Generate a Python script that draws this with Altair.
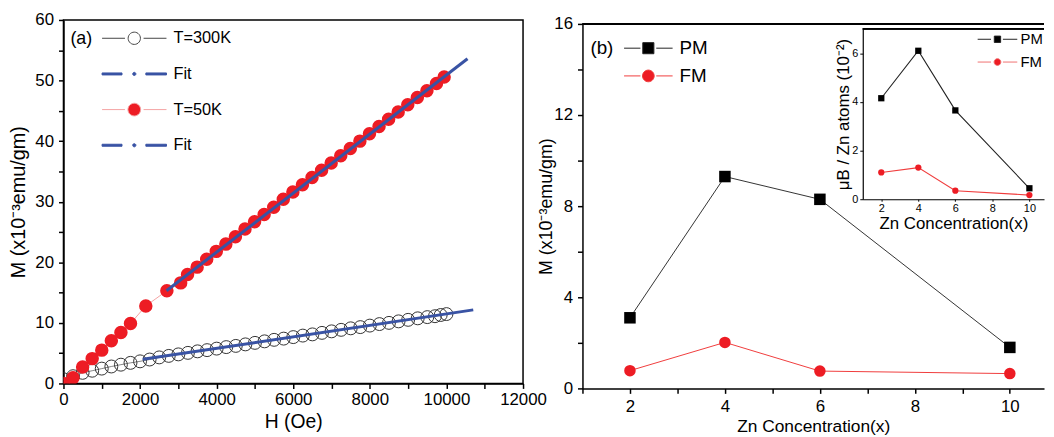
import math
import altair as alt
import pandas as pd

FONT = "Liberation Sans"

# ---------------- panel (a) data ----------------
H_300K = [0, 250, 500, 750, 1000, 1250, 1500, 1750, 2000, 2250, 2500, 2750, 3000, 3250,
          3500, 3750, 4000, 4250, 4500, 4750, 5000, 5250, 5500, 5750, 6000, 6250, 6500,
          6750, 7000, 7250, 7500, 7750, 8000, 8250, 8500, 8750, 9000, 9250, 9500, 9700,
          9850, 10000]
M_300K = [0.7, 1.2, 1.75, 2.1, 2.45, 2.8, 3.1, 3.4, 3.65, 3.95, 4.3, 4.55, 4.8, 5.05,
          5.3, 5.5, 5.75, 6.0, 6.2, 6.45, 6.7, 6.95, 7.2, 7.4, 7.65, 7.9, 8.1,
          8.35, 8.6, 8.85, 9.1, 9.3, 9.55, 9.8, 10.0, 10.25, 10.5, 10.75, 10.95, 11.1,
          11.3, 11.45]
H_50K = [0, 250, 500, 750, 1000, 1250, 1500, 1750, 2150, 2700, 3060, 3240, 3490, 3740,
         3990, 4240, 4490, 4740, 4990, 5240, 5490, 5740, 5990, 6240, 6490, 6740, 6990,
         7240, 7490, 7740, 7990, 8240, 8490, 8740, 8990, 9240, 9490, 9740, 9940]
M_50K = [0.0, 0.95, 2.7, 4.1, 5.5, 7.05, 8.4, 9.9, 12.8, 15.3, 16.6, 18.0, 19.2, 20.5,
         21.8, 23.0, 24.2, 25.5, 26.7, 27.9, 29.1, 30.4, 31.6, 32.8, 34.0, 35.2, 36.4,
         37.6, 38.8, 40.0, 41.2, 42.4, 43.6, 44.8, 46.0, 47.2, 48.3, 49.5, 50.6]
FIT_300K_H = [2070, 10700]
FIT_300K_M = [3.98, 12.15]
FIT_50K_H = [2690, 10550]
FIT_50K_M = [15.3, 53.6]
LEGEND_A = ["T=300K", "Fit", "T=50K", "Fit "]

# ---------------- panel (b) data ----------------
ZN_X = [2, 4, 6, 10]
PM_MAIN = [3.1, 9.3, 8.3, 1.8]
FM_MAIN = [0.78, 2.02, 0.76, 0.65]
PM_INSET = [4.15, 6.1, 3.65, 0.45]
FM_INSET = [1.1, 1.3, 0.35, 0.17]
LEGEND_B = ["PM", "FM"]
LEGEND_INSET = ["PM ", "FM "]

# axis extents of panel (b) and its inset
B_X_DOMAIN = [1, 10.72]
B_Y_DOMAIN = [0, 16]
I_X_DOMAIN = [1, 10.79]
I_Y_DOMAIN = [0, 7]

RED = "#ed1c24"
BLUE = "#3953a4"


# ---------------- legend symbol shapes, given in pixels, scaled to symbol units ----------------
def ring(r, s, n=28):
    pts = []
    for i in range(n):
        a = 2 * math.pi * i / n
        pts.append(f"{r * math.cos(a) / s:.4f},{r * math.sin(a) / s:.4f}")
    return "M" + "L".join(pts) + "Z"


def seg(x0, x1, s):
    return f"M{x0 / s:.4f},0L{x1 / s:.4f},0"


def bar(x0, x1, h, s):
    return (f"M{x0 / s:.4f},{-h / s:.4f}L{x1 / s:.4f},{-h / s:.4f}"
            f"L{x1 / s:.4f},{h / s:.4f}L{x0 / s:.4f},{h / s:.4f}Z")


def box(r, s):
    q = r / s
    return f"M{-q:.4f},{-q:.4f}L{q:.4f},{-q:.4f}L{q:.4f},{q:.4f}L{-q:.4f},{q:.4f}Z"


# legend (a): symbol size 16^2 -> unit 8 px
SA = 8.0
SHAPE_OPEN = seg(-32.5, -9.4, SA) + seg(9.4, 32.5, SA) + ring(6.2, SA)
SHAPE_FIT = bar(-32.5, -12.4, 1.0, SA) + bar(11.7, 32.5, 1.0, SA) + ring(1.6, SA)
SHAPE_RED = seg(-32.5, -9.4, SA) + seg(9.4, 32.5, SA) + ring(6.4, SA)
# legend (b): symbol size 18^2 -> unit 9 px
SB = 9.0
SHAPE_PM = seg(-24.5, -8.0, SB) + seg(8.0, 24.5, SB) + box(5.6, SB)
SHAPE_FM = seg(-24.5, -8.0, SB) + seg(8.0, 24.5, SB) + ring(5.9, SB)
# inset legend: symbol size 14^2 -> unit 7 px
SI = 7.0
SHAPE_PM_I = seg(-20, -6.5, SI) + seg(5.5, 20, SI) + box(3.2, SI)
SHAPE_FM_I = seg(-20, -6.5, SI) + seg(5.5, 20, SI) + ring(3.4, SI)


def axis_style(**kw):
    base = dict(domainColor="black", domainWidth=1.5, tickColor="black", tickWidth=1.5,
                tickSize=5, labelColor="black", labelFont=FONT, labelFontSize=17,
                labelFlush=False, labelPadding=4, titleColor="black", titleFont=FONT,
                titleFontSize=20, titleFontWeight="normal", grid=False)
    base.update(kw)
    return alt.Axis(**base)


def make_legend(title, x, y, fsize, tsize, ssize, row_pad, sym_off, label_off, title_pad=10):
    kw = dict(orient="none", legendX=x, legendY=y, labelFont=FONT, labelFontSize=fsize,
              labelColor="black", symbolSize=ssize, symbolStrokeWidth=1, symbolOpacity=1,
              symbolOffset=sym_off, labelOffset=label_off, rowPadding=row_pad, padding=0)
    if title:
        kw.update(title=title, titleOrient="left", titleFont=FONT, titleFontSize=tsize,
                  titleFontWeight="normal", titleColor="black", titlePadding=title_pad,
                  titleAnchor="start", titleBaseline="top")
    else:
        kw.update(title=None)
    return alt.Legend(**kw)


def legend_layer(field, keys, shapes, fills, strokes, legend, xenc, yenc, size):
    return alt.Chart(pd.DataFrame({field: keys})).mark_point(
        filled=True, opacity=1, size=size
    ).encode(
        x=xenc, y=yenc,
        shape=alt.Shape(f"{field}:N", scale=alt.Scale(domain=keys, range=shapes), legend=legend),
        fill=alt.Fill(f"{field}:N", scale=alt.Scale(domain=keys, range=fills), legend=legend),
        stroke=alt.Stroke(f"{field}:N", scale=alt.Scale(domain=keys, range=strokes), legend=legend),
    )


# ---------------- panel (a) ----------------
df300 = pd.DataFrame({"H": H_300K, "M": M_300K})
df50 = pd.DataFrame({"H": H_50K, "M": M_50K})
dff300 = pd.DataFrame({"H": FIT_300K_H, "M": FIT_300K_M})
dff50 = pd.DataFrame({"H": FIT_50K_H, "M": FIT_50K_M})

xa = alt.X("H:Q", scale=alt.Scale(domain=[0, 12000], nice=False, zero=False),
           axis=axis_style(title="H (Oe)", values=list(range(0, 12001, 1000)), format="d",
                           labelExpr="datum.value % 2000 == 0 ? datum.label : ''",
                           labelPadding=3, titlePadding=5, titleFontSize=19.5))
ya = alt.Y("M:Q", scale=alt.Scale(domain=[0, 60], nice=False),
           axis=axis_style(title="M (x10⁻³emu/gm)", values=list(range(0, 61, 5)),
                           labelExpr="datum.value % 10 == 0 ? datum.label : ''",
                           labelPadding=5, titlePadding=6, titleFontSize=20))

a_line300 = alt.Chart(df300).mark_line(color="#666666", strokeWidth=0.8, clip=True).encode(x=xa, y=ya)
a_pts300 = alt.Chart(df300).mark_point(shape="circle", size=170, filled=False, color="#333333",
                                       strokeWidth=1, opacity=1, clip=True).encode(x=xa, y=ya)
a_line50 = alt.Chart(df50).mark_line(color="#f4a3a3", strokeWidth=1, clip=True).encode(x=xa, y=ya)
a_pts50 = alt.Chart(df50).mark_circle(size=185, color=RED, opacity=1, clip=True).encode(x=xa, y=ya)
a_fit300 = alt.Chart(dff300).mark_line(color=BLUE, strokeWidth=3).encode(x=xa, y=ya)
a_fit50 = alt.Chart(dff50).mark_line(color=BLUE, strokeWidth=3).encode(x=xa, y=ya)
a_leg = legend_layer(
    "key", LEGEND_A, [SHAPE_OPEN, SHAPE_FIT, SHAPE_RED, SHAPE_FIT],
    ["white", BLUE, RED, BLUE], ["#444444", BLUE, "#f4a3a3", BLUE],
    make_legend("(a)", 7, 10, 16.5, 18, 256, 19, 24, 31, 10), xa, ya, 256)

panel_a = alt.layer(a_line300, a_pts300, a_line50, a_pts50, a_fit300, a_fit50, a_leg).properties(
    width=464, height=367, view=alt.ViewBackground(stroke="black", strokeWidth=1.5))

# ---------------- panel (b) ----------------
dfb = pd.DataFrame({"x": ZN_X, "PM": PM_MAIN, "FM": FM_MAIN, "PMi": PM_INSET, "FMi": FM_INSET})

B_W, B_H = 466, 372
b_x_scale = alt.Scale(domain=B_X_DOMAIN, nice=False, zero=False)
b_y_scale = alt.Scale(domain=B_Y_DOMAIN, range=[B_H, 4], nice=False)
b_x_axis = axis_style(title="Zn Concentration(x)", titleFontSize=17.5, labelFontSize=17,
                      values=list(range(1, 11)),
                      labelExpr="datum.value % 2 == 0 ? datum.label : ''",
                      labelPadding=5, titlePadding=4)
b_y_axis = axis_style(title="M (x10⁻³emu/gm)", titleFontSize=18, labelFontSize=17,
                      values=list(range(0, 17, 2)),
                      labelExpr="datum.value % 4 == 0 ? datum.label : ''",
                      labelPadding=5, titlePadding=-2)


def bx(field="x:Q"):
    return alt.X(field, scale=b_x_scale, axis=b_x_axis)


def by(field):
    return alt.Y(f"{field}:Q", scale=b_y_scale, axis=b_y_axis)


b_pm_line = alt.Chart(dfb).mark_line(color="#333333", strokeWidth=1).encode(x=bx(), y=by("PM"))
b_pm_pts = alt.Chart(dfb).mark_point(shape="square", filled=True, size=135, color="black",
                                     opacity=1).encode(x=bx(), y=by("PM"))
b_fm_line = alt.Chart(dfb).mark_line(color="#f03c3c", strokeWidth=1).encode(x=bx(), y=by("FM"))
b_fm_pts = alt.Chart(dfb).mark_circle(size=135, color=RED, opacity=1).encode(x=bx(), y=by("FM"))
b_top = alt.Chart(dfb).mark_rule(color="black", strokeWidth=1.5).encode(
    x=alt.XDatum(B_X_DOMAIN[0], type="quantitative", scale=b_x_scale, axis=b_x_axis),
    x2=alt.X2Datum(B_X_DOMAIN[1]),
    y=alt.YDatum(B_Y_DOMAIN[1], type="quantitative", scale=b_y_scale, axis=b_y_axis))
b_leg = legend_layer(
    "key", LEGEND_B, [SHAPE_PM, SHAPE_FM], ["black", RED], ["#222222", "#f03c3c"],
    make_legend("(b)", 8, 19, 19, 19, 324, 8, 15, 22, 10), bx("nx:Q"), by("PM"), 324)

main_b = alt.layer(b_top, b_pm_line, b_pm_pts, b_fm_line, b_fm_pts, b_leg)

# inset
i_x_scale = alt.Scale(domain=I_X_DOMAIN, range=[283, B_W], nice=False, zero=False)
i_y_scale = alt.Scale(domain=I_Y_DOMAIN, range=[181, 9], nice=False)
i_x_axis = axis_style(orient="bottom", offset=-191, title="Zn Concentration(x)", titleFontSize=17,
                      labelFontSize=11, values=[2, 4, 6, 8, 10], tickSize=2, tickWidth=1,
                      domainWidth=1.2, labelPadding=1, titlePadding=3)
i_y_axis = axis_style(orient="left", offset=-283, title="μB / Zn atoms (10⁻²)", titleFontSize=17,
                      labelFontSize=11, values=[0, 2, 4, 6], tickSize=3, tickWidth=1,
                      domainWidth=1.2, labelPadding=2, titlePadding=-1)


def ix(field="x:Q"):
    return alt.X(field, scale=i_x_scale, axis=i_x_axis)


def iy(field):
    return alt.Y(f"{field}:Q", scale=i_y_scale, axis=i_y_axis)


i_top = alt.Chart(dfb).mark_rule(color="black", strokeWidth=1.2).encode(
    x=alt.XDatum(I_X_DOMAIN[0], type="quantitative", scale=i_x_scale, axis=i_x_axis),
    x2=alt.X2Datum(I_X_DOMAIN[1]),
    y=alt.YDatum(I_Y_DOMAIN[1], type="quantitative", scale=i_y_scale, axis=i_y_axis))
i_pm_line = alt.Chart(dfb).mark_line(color="#222222", strokeWidth=1.1).encode(x=ix(), y=iy("PMi"))
i_pm_pts = alt.Chart(dfb).mark_point(shape="square", filled=True, size=40, color="black",
                                     opacity=1).encode(x=ix(), y=iy("PMi"))
i_fm_line = alt.Chart(dfb).mark_line(color="#f03c3c", strokeWidth=1.1).encode(x=ix(), y=iy("FMi"))
i_fm_pts = alt.Chart(dfb).mark_circle(size=40, color=RED, opacity=1).encode(x=ix(), y=iy("FMi"))
i_leg = legend_layer(
    "ikey", LEGEND_INSET, [SHAPE_PM_I, SHAPE_FM_I], ["black", RED], ["#222222", "#f07070"],
    make_legend(None, 399, 12, 15, 15, 196, 7, 12.5, 15.8), ix("nx:Q"), iy("PMi"), 196)

inset_b = alt.layer(i_top, i_pm_line, i_pm_pts, i_fm_line, i_fm_pts, i_leg)

panel_b = alt.layer(main_b, inset_b).resolve_scale(
    x="independent", y="independent", shape="independent", fill="independent", stroke="independent"
).properties(width=B_W, height=B_H, view=alt.ViewBackground(stroke="transparent"))

chart = alt.hconcat(panel_a, panel_b, spacing=-11).properties(padding=0).configure(
    font=FONT).configure_view(stroke="transparent")

chart.save("out.html", embed_options={"renderer": "svg", "actions": False})
